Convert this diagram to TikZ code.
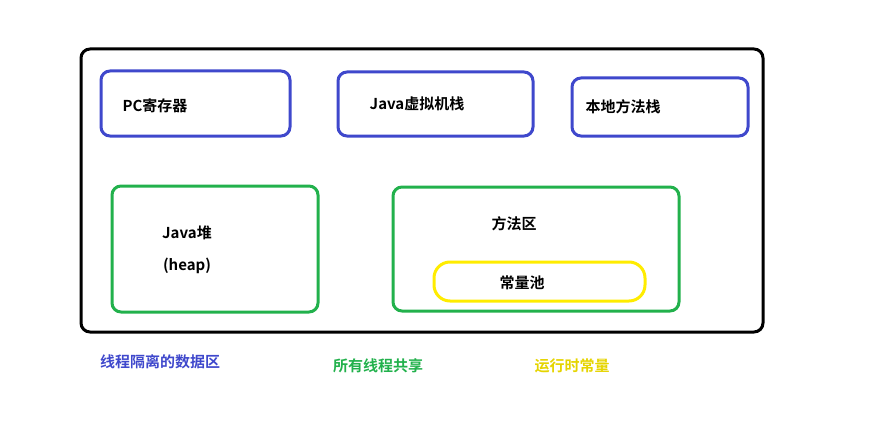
\documentclass[tikz,border=0pt]{standalone}
\usepackage{fontspec}
\setmainfont{Noto Sans CJK SC}[BoldFont=* Bold]
\definecolor{bl}{RGB}{63,72,204}
\definecolor{gr}{RGB}{34,177,76}
\definecolor{ye}{RGB}{255,236,0}
\begin{document}
\begin{tikzpicture}[x=1pt,y=-1pt,
  box/.style={rounded corners=9pt,line width=3pt},
  txt/.style={font=\fontsize{15}{18}\selectfont\bfseries},
  lbl/.style={font=\fontsize{15}{18}\selectfont\bfseries}]
\useasboundingbox (0,0) rectangle (873,444);
\draw[box,black] (81,49) rectangle (763,332);
\draw[box,bl] (101,71) rectangle (290,136);
\draw[box,bl] (338,72) rectangle (533,136);
\draw[box,bl] (572,78) rectangle (748,136);
\draw[box,gr] (112,186) rectangle (318,312);
\draw[box,gr] (393,187) rectangle (679,311);
\draw[line width=3pt,ye,rounded corners=16pt] (434,262) rectangle (645,301);
\node[txt] (pc) at (155,106) {PC寄存器};
\node[txt] (jvm) at (417,104) {Java虚拟机栈};
\node[txt] (nat) at (623,107) {本地方法栈};
\node[txt] (heap) at (187,233) {Java堆};
\node[txt] (heap2) at (187,266) {(heap)};
\node[txt] (ma) at (514,224) {方法区};
\node[txt] (cp) at (522,283) {常量池};
\node[lbl,text=bl] (l1) at (160,362) {线程隔离的数据区};
\node[lbl,text=gr] (l2) at (378,366) {所有线程共享};
\node[lbl,text=ye!90!black] (l3) at (572,366) {运行时常量};
\end{tikzpicture}
\end{document}
